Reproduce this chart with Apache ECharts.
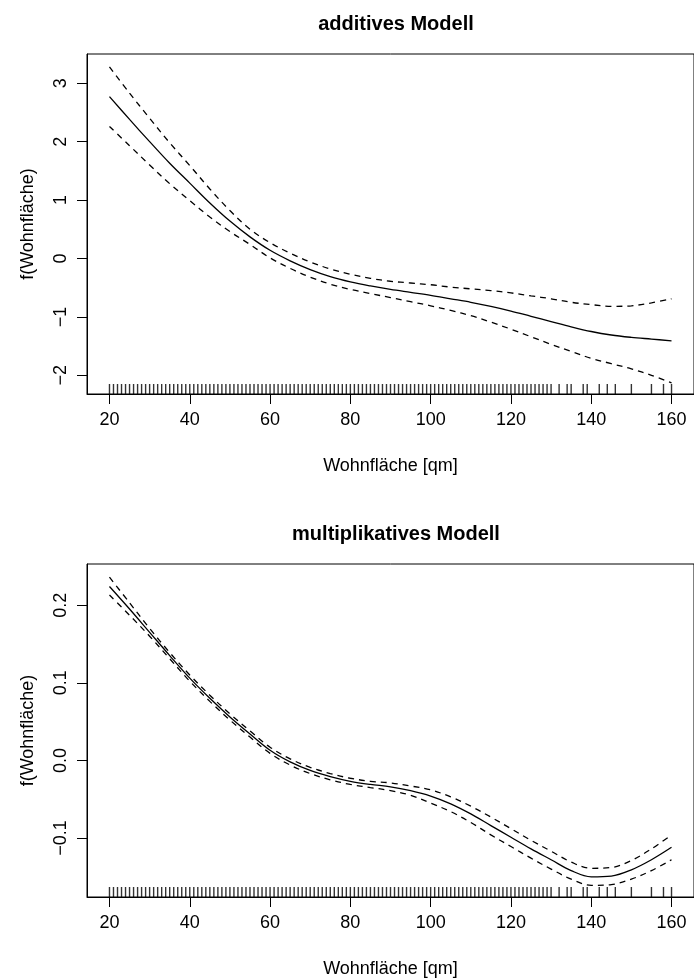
<!DOCTYPE html>
<html>
<head>
<meta charset="utf-8">
<title>Wohnfläche</title>
<script src="https://cdn.jsdelivr.net/npm/echarts@6/dist/echarts.min.js"></script>
<style>
    html, body { margin: 0; padding: 0; background: #fff; }
    #chart { width: 694px; height: 979px; }
</style>
</head>
<body>
<div id="chart"></div>
<script>
// x-Stützstellen der geschätzten Funktion
const xs = [20, 25, 30, 35, 40, 45, 50, 55, 60, 65, 70, 75, 80, 85, 90, 95, 100,
    105, 110, 115, 120, 125, 130, 135, 140, 145, 150, 155, 160];

// additives Modell
const addFit = [2.77, 2.38, 2.00, 1.63, 1.29, 0.95, 0.64, 0.37, 0.14, -0.04, -0.19, -0.31, -0.40, -0.47, -0.53, -0.58, -0.63,
    -0.69, -0.75, -0.82, -0.90, -0.99, -1.08, -1.17, -1.25, -1.31, -1.35, -1.38, -1.41];
const addUpper = [3.28, 2.83, 2.40, 1.98, 1.59, 1.19, 0.82, 0.50, 0.27, 0.09, -0.06, -0.18, -0.27, -0.34, -0.39, -0.42, -0.45,
    -0.49, -0.52, -0.55, -0.59, -0.64, -0.69, -0.75, -0.79, -0.82, -0.81, -0.76, -0.69];
const addLower = [2.26, 1.93, 1.60, 1.28, 0.99, 0.71, 0.46, 0.24, 0.01, -0.17, -0.32, -0.44, -0.53, -0.60, -0.67, -0.74, -0.81,
    -0.89, -0.98, -1.09, -1.21, -1.34, -1.47, -1.59, -1.71, -1.80, -1.89, -2.00, -2.13];

// multiplikatives Modell
const mulFit = [0.224, 0.195, 0.165, 0.135, 0.106, 0.080, 0.056, 0.034, 0.013, -0.002, -0.013, -0.021, -0.027, -0.031, -0.034, -0.039, -0.046,
    -0.056, -0.069, -0.084, -0.099, -0.114, -0.128, -0.142, -0.150, -0.149, -0.141, -0.128, -0.112];
const mulUpper = [0.236, 0.203, 0.170, 0.139, 0.110, 0.084, 0.060, 0.038, 0.017, 0.002, -0.009, -0.017, -0.023, -0.027, -0.029, -0.033, -0.038,
    -0.047, -0.059, -0.073, -0.088, -0.103, -0.117, -0.131, -0.139, -0.138, -0.129, -0.114, -0.096];
const mulLower = [0.213, 0.187, 0.160, 0.131, 0.102, 0.076, 0.052, 0.030, 0.009, -0.006, -0.017, -0.025, -0.031, -0.035, -0.039, -0.045, -0.055,
    -0.066, -0.080, -0.096, -0.111, -0.126, -0.140, -0.153, -0.161, -0.160, -0.153, -0.142, -0.128];

// Rug: beobachtete Wohnflächen
const rugX = [20, 21, 22, 23, 24, 25, 26, 27, 28, 29, 30, 31, 32, 33, 34, 35, 36, 37, 38, 39,
    40, 41, 42, 43, 44, 45, 46, 47, 48, 49, 50, 51, 52, 53, 54, 55, 56, 57, 58, 59,
    60, 61, 62, 63, 64, 65, 66, 67, 68, 69, 70, 71, 72, 73, 74, 75, 76, 77, 78, 79,
    80, 81, 82, 83, 84, 85, 86, 87, 88, 89, 90, 91, 92, 93, 94, 95, 96, 97, 98, 99,
    100, 101, 102, 103, 104, 105, 106, 107, 108, 109, 110, 111, 112, 113, 114, 115, 116, 117, 118, 119,
    120, 121, 122, 123, 124, 125, 126, 127, 128, 129, 130,
    132, 134, 135, 138, 139, 142, 144, 146, 150, 155, 158, 160];

// Achsenbeschriftungen
const xTicks = [20, 40, 60, 80, 100, 120, 140, 160];
const addYTicks = [-2, -1, 0, 1, 2, 3];
const mulYTicks = [-0.1, 0.0, 0.1, 0.2];

const titles = ['additives Modell', 'multiplikatives Modell'];
const xName = 'Wohnfläche [qm]';
const yName = 'f(Wohnfläche)';

const FONT = 'Liberation Sans, Arial, Helvetica, sans-serif';
const minus = s => String(s).replace('-', '\u2212');

const chart = echarts.init(document.getElementById('chart'), null, { renderer: 'canvas' });

function xAxisFor(gridIndex) {
    return {
        type: 'value',
        gridIndex: gridIndex,
        min: 14.4,
        max: 165.6,
        name: xName,
        nameLocation: 'middle',
        nameGap: 63,
        nameTextStyle: { color: '#000', fontFamily: FONT, fontSize: 18 },
        axisLine: { show: true, onZero: false, lineStyle: { color: '#000', width: 1 } },
        axisTick: { show: true, inside: false, length: 10, customValues: xTicks, lineStyle: { color: '#000' } },
        axisLabel: { margin: 17, customValues: xTicks, color: '#000', fontFamily: FONT, fontSize: 18 },
        splitLine: { show: false }
    };
}

function yAxisFor(gridIndex, min, max, ticks, fmt) {
    return {
        type: 'value',
        gridIndex: gridIndex,
        min: min,
        max: max,
        name: yName,
        nameLocation: 'middle',
        nameGap: 50,
        nameRotate: 90,
        nameTextStyle: { color: '#000', fontFamily: FONT, fontSize: 18 },
        axisLine: { show: true, onZero: false, lineStyle: { color: '#000', width: 1 } },
        axisTick: { show: true, inside: false, length: 10, customValues: ticks, lineStyle: { color: '#000' } },
        axisLabel: { margin: 17, rotate: 90, customValues: ticks, color: '#000', fontFamily: FONT, fontSize: 18, formatter: fmt },
        splitLine: { show: false }
    };
}

function curve(idx, values, dashed) {
    return {
        type: 'line',
        xAxisIndex: idx,
        yAxisIndex: idx,
        data: xs.map((x, i) => [x, values[i]]),
        showSymbol: false,
        smooth: 0.35,
        silent: true,
        lineStyle: { color: '#000', width: 1.3, type: dashed ? [6, 5] : 'solid' }
    };
}

function rug(idx, yMin) {
    return {
        type: 'scatter',
        xAxisIndex: idx,
        yAxisIndex: idx,
        data: rugX.map(x => [x, yMin]),
        symbol: 'rect',
        symbolSize: [1.4, 10],
        symbolOffset: [0, -5],
        clip: false,
        silent: true,
        itemStyle: { color: '#000' }
    };
}

const option = {
    animation: false,
    backgroundColor: '#fff',
    title: [
        { text: titles[0], left: 391, top: 9, textAlign: 'center',
          textStyle: { color: '#000', fontFamily: FONT, fontSize: 20, fontWeight: 'bold' } },
        { text: titles[1], left: 391, top: 519, textAlign: 'center',
          textStyle: { color: '#000', fontFamily: FONT, fontSize: 20, fontWeight: 'bold' } }
    ],
    grid: [
        { left: 87, top: 54, width: 609, height: 340, show: true, borderColor: '#000', borderWidth: 1, backgroundColor: 'transparent' },
        { left: 87, top: 564, width: 609, height: 339, show: true, borderColor: '#000', borderWidth: 1, backgroundColor: 'transparent' }
    ],
    xAxis: [xAxisFor(0), xAxisFor(1)],
    yAxis: [
        yAxisFor(0, -2.32, 3.5, addYTicks, v => minus(v)),
        yAxisFor(1, -0.176, 0.253, mulYTicks, v => minus(v.toFixed(1)))
    ],
    series: [
        rug(0, -2.32),
        curve(0, addFit, false),
        curve(0, addUpper, true),
        curve(0, addLower, true),
        rug(1, -0.176),
        curve(1, mulFit, false),
        curve(1, mulUpper, true),
        curve(1, mulLower, true)
    ]
};

chart.setOption(option);
</script>
</body>
</html>
